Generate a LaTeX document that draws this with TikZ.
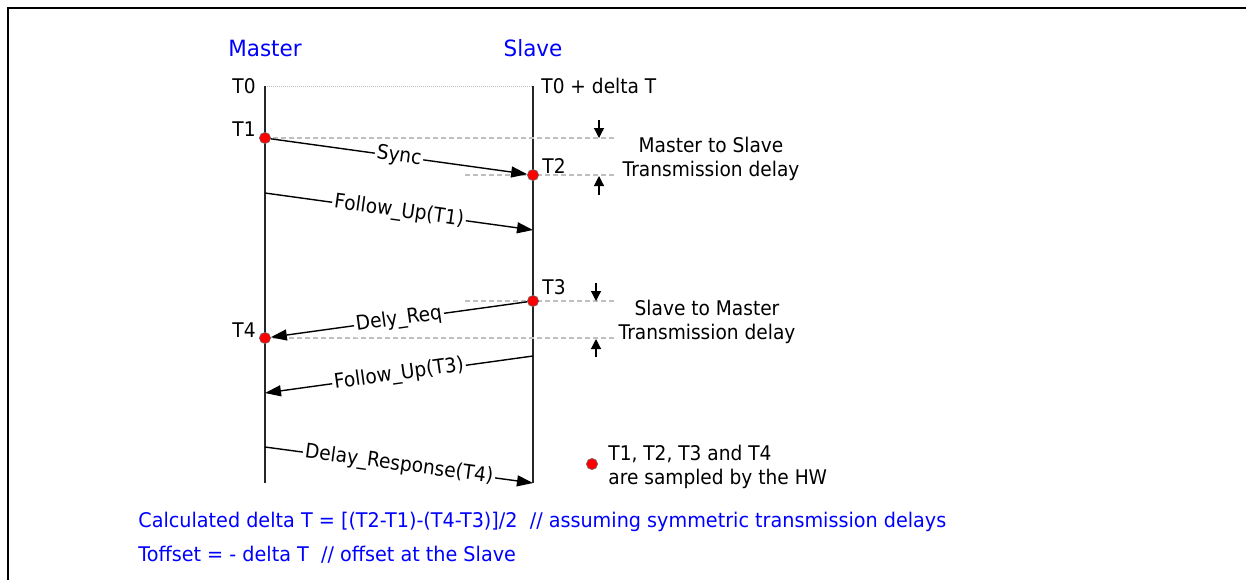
\documentclass[tikz,border=0pt]{standalone}
\usepackage{fontspec}
\setmainfont{DejaVu Sans}
\newfontfamily\dvn[FakeStretch=0.92]{DejaVu Sans}
\newfontfamily\dvb[FakeStretch=0.95]{DejaVu Sans}
\newfontfamily\dvh[FakeStretch=0.96]{DejaVu Sans}
\usetikzlibrary{arrows.meta}
\begin{document}
\begin{tikzpicture}[x=0.5pt,y=-0.5pt,
  lbl/.style={font=\dvn\fontsize{10.1}{12}\selectfont, inner sep=0pt, text=black},
  head/.style={font=\dvh\fontsize{11.2}{14}\selectfont, text=blue, inner sep=0pt},
  note/.style={font=\dvb\fontsize{10.1}{13}\selectfont, text=blue, inner sep=0pt, anchor=base west},
  life/.style={line width=0.7pt, draw=black!85},
  msg/.style={line width=0.7pt, -{Triangle[length=8pt,width=5.5pt]}},
  msglbl/.style={lbl, midway, sloped, fill=white, inner sep=1pt},
  gdash/.style={draw=black!25, line width=0.75pt, dash pattern=on 2.5pt off 1.5pt},
  tzero/.style={draw=black!25, line width=0.5pt, dash pattern=on 0.5pt off 0.5pt},
  dot/.style={circle, fill=red, draw=black!60, line width=0.3pt, minimum size=5.6pt, inner sep=0pt},
  tick/.style={line width=0.6pt, -{Triangle[length=5pt,width=5pt]}},
]
\useasboundingbox (0,0) rectangle (1246,580);
% frame
\draw[line width=1.4pt] (8,580) -- (8,8) -- (1246,8);

% headers
\node[head] (master) at (265,48) {Master};
\node[head] (slave) at (533,48) {Slave};

% lifeline coordinates
\coordinate (m0) at (265,86);
\coordinate (s0) at (533,86);
\coordinate (mend) at (265,483);
\coordinate (send) at (533,483);
\coordinate (p1) at (265,138);
\coordinate (p2) at (533,175);
\coordinate (p3) at (533,301);
\coordinate (p4) at (265,338);

% T0 line and lifelines
\draw[tzero] (m0) -- (s0);
\draw[life] (m0) -- (mend);
\draw[life] (s0) -- (send);

% dashed reference lines
\coordinate (d1e) at (615,138);
\coordinate (d2s) at (465,175);
\coordinate (d2e) at (615,175);
\coordinate (d3s) at (465,301);
\coordinate (d3e) at (615,301);
\coordinate (d4e) at (615,338);
\draw[gdash] (p1) -- (d1e);
\draw[gdash] (d2s) -- (d2e);
\draw[gdash] (d3s) -- (d3e);
\draw[gdash] (p4) -- (d4e);

% sample dots
\node[dot] (t1) at (p1) {};
\node[dot] (t2) at (p2) {};
\node[dot] (t3) at (p3) {};
\node[dot] (t4) at (p4) {};

% time labels
\node[lbl, anchor=east] (lt0) at (256,86) {T0};
\node[lbl, anchor=west] (lt0s) at (541,86) {T0 + delta T};
\node[lbl, anchor=east] (lt1) at (256,129) {T1};
\node[lbl, anchor=west] (lt2) at (542,166) {T2};
\node[lbl, anchor=west] (lt3) at (542,287) {T3};
\node[lbl, anchor=east] (lt4) at (256,330) {T4};

% messages
\draw[msg] (t1) -- node[msglbl] {Sync} (t2);
\coordinate (f1a) at (265,193);
\coordinate (f1b) at (533,230);
\draw[msg] (f1a) -- node[msglbl] {Follow\_Up(T1)} (f1b);
\draw[msg] (t3) -- node[msglbl] {Dely\_Req} (t4);
\coordinate (f3a) at (533,356);
\coordinate (f3b) at (265,393);
\draw[msg] (f3a) -- node[msglbl] {Follow\_Up(T3)} (f3b);
\coordinate (dra) at (265,447);
\coordinate (drb) at (533,483);
\draw[msg] (dra) -- node[msglbl] {Delay\_Response(T4)} (drb);

% delay ticks
\coordinate (a1s) at (599,120);
\coordinate (a1e) at (599,138);
\coordinate (a2s) at (599,195);
\coordinate (a2e) at (599,176);
\coordinate (a3s) at (596,283);
\coordinate (a3e) at (596,301);
\coordinate (a4s) at (596,357);
\coordinate (a4e) at (596,339);
\draw[tick] (a1s) -- (a1e);
\draw[tick] (a2s) -- (a2e);
\draw[tick] (a3s) -- (a3e);
\draw[tick] (a4s) -- (a4e);

\node[lbl, align=center] (ms) at (711,159) {Master to Slave\\Transmission delay};
\node[lbl, align=center] (sm) at (707,322) {Slave to Master\\Transmission delay};

% legend
\node[dot] (ldot) at (592,464) {};
\node[lbl, align=left, anchor=west] (ltxt) at (608,467) {T1, T2, T3 and T4\\are sampled by the HW};

% notes
\node[note] (n1) at (138,527) {Calculated delta T = [(T2-T1)-(T4-T3)]/2 \ // assuming symmetric transmission delays};
\node[note] (n2) at (138,561) {Toffset = - delta T \ // offset at the Slave};
\end{tikzpicture}
\end{document}
